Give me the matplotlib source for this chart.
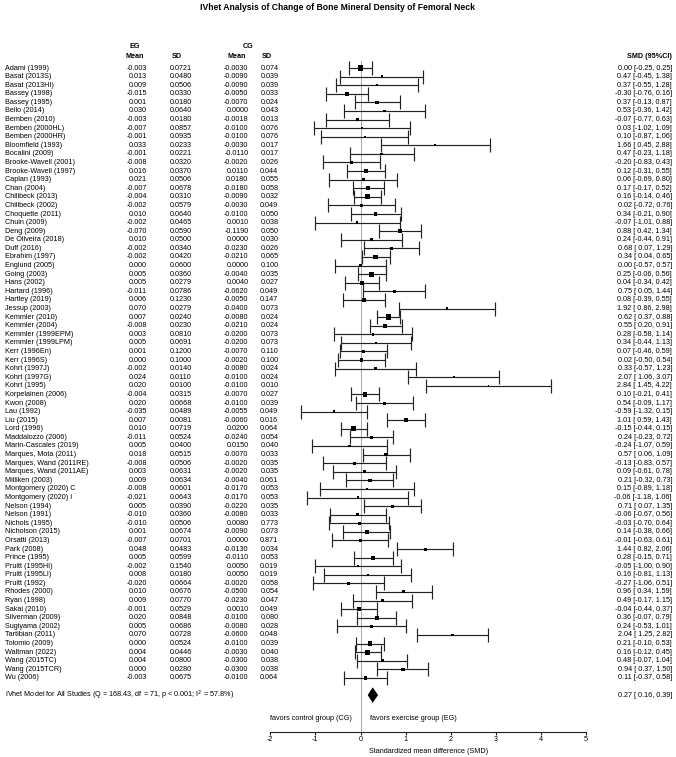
import numpy as np
import matplotlib
matplotlib.use("Agg")
import matplotlib.pyplot as plt
import matplotlib.transforms as mtransforms

plt.rcParams['font.family'] = ['Liberation Sans', 'DejaVu Sans']
plt.rcParams['axes.unicode_minus'] = False

studies = ["Adami (1999)", "Basat (2013S)", "Basat (2013HI)", "Bassey (1998)", "Bassey (1995)",
    "Bello (2014)", "Bemben (2010)", "Bemben (2000HL)", "Bemben (2000HR)", "Bloomfield (1993)",
    "Bocalini (2009)", "Brooke-Wavell (2001)", "Brooke-Wavell (1997)", "Caplan (1993)", "Chan (2004)",
    "Chilibeck (2013)", "Chilibeck (2002)", "Choquette (2011)", "Chuin (2009)", "Deng (2009)",
    "De Oliveira (2018)", "Duff (2016)", "Ebrahim (1997)", "Englund (2005)", "Going (2003)",
    "Hans (2002)", "Hartard (1996)", "Hartley (2019)", "Jessup (2003)", "Kemmler (2010)",
    "Kemmler (2004)", "Kemmler (1999EPM)", "Kemmler (1999LPM)", "Kerr (1996En)", "Kerr (1996S)",
    "Kohrt (1997J)", "Kohrt (1997G)", "Kohrt (1995)", "Korpelainen (2006)", "Kwon (2008)",
    "Lau (1992)", "Liu (2015)", "Lord (1996)", "Maddalozzo (2006)", "Marin-Cascales (2019)",
    "Marques, Mota (2011)", "Marques, Wand (2011RE)", "Marques, Wand (2011AE)", "Milliken (2003)",
    "Montgomery (2020) C", "Montgomery (2020) I", "Nelson (1994)", "Nelson (1991)", "Nichols (1995)",
    "Nicholson (2015)", "Orsatti (2013)", "Park (2008)", "Prince (1995)", "Pruitt (1995HI)",
    "Pruitt (1995LI)", "Pruitt (1992)", "Rhodes (2000)", "Ryan (1998)", "Sakai (2010)",
    "Silverman (2009)", "Sugiyama (2002)", "Tartibian (2011)", "Tolomio (2009)", "Waltman (2022)",
    "Wang (2015TC)", "Wang (2015TCR)", "Wu (2006)"]

eg_mean = ["-0.003", "0.013", "0.009", "-0.015", "0.001", "0.030", "-0.003", "-0.007", "-0.001", "0.033",
    "-0.001", "-0.008", "0.016", "0.021", "-0.007", "-0.004", "-0.002", "0.010", "-0.002", "-0.070",
    "0.010", "-0.002", "-0.002", "0.000", "0.005", "0.005", "-0.011", "0.006", "0.070", "0.007",
    "-0.008", "0.003", "0.005", "0.001", "0.000", "-0.002", "0.024", "0.020", "-0.004", "0.020",
    "-0.035", "0.007", "0.010", "-0.011", "0.005", "0.018", "-0.008", "0.003", "0.009", "-0.008",
    "-0.021", "0.005", "-0.010", "-0.010", "0.001", "-0.007", "0.048", "0.005", "-0.002", "0.008",
    "-0.020", "0.010", "0.009", "-0.001", "0.020", "0.005", "0.070", "0.000", "0.004", "0.004",
    "0.000", "-0.003"]

eg_sd = ["0.0721", "0.0480", "0.0506", "0.0330", "0.0180", "0.0640", "0.0180", "0.0857", "0.0935", "0.0233",
    "0.0221", "0.0320", "0.0370", "0.0506", "0.0678", "0.0310", "0.0579", "0.0640", "0.0465", "0.0590",
    "0.0500", "0.0340", "0.0420", "0.0600", "0.0360", "0.0279", "0.0786", "0.1230", "0.0279", "0.0240",
    "0.0230", "0.0810", "0.0691", "0.1200", "0.1000", "0.0140", "0.0110", "0.0100", "0.0315", "0.0668",
    "0.0489", "0.0081", "0.0719", "0.0524", "0.0400", "0.0515", "0.0506", "0.0631", "0.0634", "0.0601",
    "0.0643", "0.0390", "0.0360", "0.0506", "0.0674", "0.0701", "0.0483", "0.0599", "0.1540", "0.0180",
    "0.0664", "0.0676", "0.0770", "0.0529", "0.0848", "0.0686", "0.0728", "0.0524", "0.0446", "0.0800",
    "0.0280", "0.0675"]

cg_mean = ["-0.0030", "-0.0090", "-0.0090", "-0.0050", "-0.0070", "0.0000", "-0.0018", "-0.0100", "-0.0100", "-0.0030",
    "-0.0110", "-0.0020", "0.0110", "0.0180", "-0.0180", "-0.0090", "-0.0030", "-0.0100", "0.0010", "-0.1190",
    "0.0000", "-0.0230", "-0.0210", "0.0000", "-0.0040", "0.0040", "-0.0620", "-0.0050", "-0.0400", "-0.0080",
    "-0.0210", "-0.0200", "-0.0200", "-0.0070", "-0.0020", "-0.0080", "-0.0100", "-0.0100", "-0.0070", "-0.0100",
    "-0.0055", "-0.0060", "0.0200", "-0.0240", "0.0150", "-0.0070", "-0.0020", "-0.0020", "-0.0040", "-0.0170",
    "-0.0170", "-0.0220", "-0.0080", "0.0080", "-0.0090", "0.0000", "-0.0130", "-0.0110", "0.0050", "0.0050",
    "-0.0020", "-0.0500", "-0.0230", "0.0010", "-0.0100", "-0.0080", "-0.0600", "-0.0100", "-0.0030", "-0.0300",
    "-0.0300", "-0.0100"]

cg_sd = ["0.074", "0.039", "0.039", "0.033", "0.024", "0.043", "0.013", "0.076", "0.076", "0.017",
    "0.017", "0.026", "0.044", "0.055", "0.058", "0.032", "0.049", "0.050", "0.038", "0.050",
    "0.030", "0.026", "0.065", "0.100", "0.035", "0.027", "0.049", "0.147", "0.073", "0.024",
    "0.024", "0.073", "0.073", "0.110", "0.100", "0.024", "0.024", "0.010", "0.027", "0.039",
    "0.049", "0.016", "0.064", "0.054", "0.040", "0.033", "0.035", "0.035", "0.061", "0.053",
    "0.053", "0.035", "0.033", "0.773", "0.073", "0.871", "0.034", "0.053", "0.019", "0.019",
    "0.058", "0.054", "0.047", "0.049", "0.080", "0.028", "0.048", "0.039", "0.040", "0.038",
    "0.038", "0.064"]

smd = [0.00, 0.47, 0.37, -0.30, 0.37, 0.53, -0.07, 0.03, 0.10, 1.66,
    0.47, -0.20, 0.12, 0.06, 0.17, 0.16, 0.02, 0.34, -0.07, 0.88,
    0.24, 0.68, 0.34, 0.00, 0.25, 0.04, 0.75, 0.08, 1.92, 0.62,
    0.55, 0.28, 0.34, 0.07, 0.02, 0.33, 2.07, 2.84, 0.10, 0.54,
    -0.59, 1.01, -0.15, 0.24, -0.24, 0.57, -0.13, 0.09, 0.21, 0.15,
    -0.06, 0.71, -0.06, -0.03, 0.14, -0.01, 1.44, 0.28, -0.05, 0.16,
    -0.27, 0.96, 0.49, -0.04, 0.36, 0.24, 2.04, 0.21, 0.16, 0.48,
    0.94, 0.11]

ci_low = [-0.25, -0.45, -0.55, -0.76, -0.13, -0.36, -0.77, -1.02, -0.87, 0.45,
    -0.23, -0.83, -0.31, -0.69, -0.17, -0.14, -0.72, -0.21, -1.01, 0.42,
    -0.44, 0.07, 0.04, -0.57, -0.06, -0.34, 0.05, -0.39, 0.86, 0.37,
    0.20, -0.58, -0.44, -0.46, -0.50, -0.57, 1.06, 1.45, -0.21, -0.09,
    -1.32, 0.59, -0.44, -0.23, -1.07, 0.06, -0.83, -0.61, -0.32, -0.89,
    -1.18, 0.07, -0.67, -0.70, -0.38, -0.63, 0.82, -0.15, -1.00, -0.81,
    -1.06, 0.34, -0.17, -0.44, -0.07, -0.53, 1.25, -0.10, -0.12, -0.07,
    0.37, -0.37]

ci_high = [0.25, 1.38, 1.28, 0.16, 0.87, 1.42, 0.63, 1.09, 1.06, 2.88,
    1.18, 0.43, 0.55, 0.80, 0.52, 0.46, 0.76, 0.90, 0.88, 1.34,
    0.91, 1.29, 0.65, 0.57, 0.56, 0.42, 1.44, 0.55, 2.98, 0.88,
    0.91, 1.14, 1.13, 0.59, 0.54, 1.23, 3.07, 4.22, 0.41, 1.17,
    0.15, 1.43, 0.15, 0.72, 0.59, 1.09, 0.57, 0.78, 0.73, 1.18,
    1.06, 1.35, 0.56, 0.64, 0.66, 0.61, 2.06, 0.71, 0.90, 1.13,
    0.51, 1.59, 1.15, 0.37, 0.79, 1.01, 2.82, 0.53, 0.45, 1.04,
    1.50, 0.58]

pooled_smd = 0.27
pooled_low = 0.16
pooled_high = 0.39
pooled_label = "IVhet Model for All Studies (Q = 168.43, df = 71, p < 0.001; I$^2$ = 57.8%)"
title = "IVhet Analysis of Change of Bone Mineral Density of Femoral Neck"
x_ticks = [-2, -1, 0, 1, 2, 3, 4, 5]
x_label = "Standardized mean difference (SMD)"

# ---------------- layout ----------------
W, H = 676, 757
fig = plt.figure(figsize=(W / 100, H / 100), dpi=100)

row0_px = 68.0
row_step = 8.59
ax_top_px = 60.0
ax_bot_px = 732.0
x0_px, x1_px = 270.3, 586.0

ax = fig.add_axes([x0_px / W, 1 - ax_bot_px / H, (x1_px - x0_px) / W, (ax_bot_px - ax_top_px) / H])
y_top = 1 + (ax_top_px - row0_px) / row_step
y_bot = 1 + (ax_bot_px - row0_px) / row_step
ax.set_ylim(y_bot, y_top)
ax.set_xlim(-2, 5)
for s in ['top', 'right', 'left']:
    ax.spines[s].set_visible(False)
ax.spines['bottom'].set_linewidth(0.8)
ax.spines['bottom'].set_color('#222222')
ax.set_yticks([])
ax.set_xticks(x_ticks)
ax.tick_params(axis='x', labelsize=5.2, length=2.2, width=0.8, pad=1, color='#222222')
ax.set_xlabel(x_label, fontsize=5.2, labelpad=3.5)
ax.patch.set_alpha(0)

n = len(studies)
rows = np.arange(1, n + 1)
est = np.array(smd)
lo = np.array(ci_low)
hi = np.array(ci_high)

ax.axvline(0, color='#333333', lw=0.6, ls=(0, (1.2, 1.2)), zorder=1)

ax.errorbar(est, rows, xerr=[est - lo, hi - est], fmt='none', ecolor='#222222',
            elinewidth=0.85, capsize=4.8, capthick=0.85, zorder=2)
width = hi - lo
side_px = np.clip(5.4 * (0.51 / width) ** 0.65, 1.8, 8.0)
ax.scatter(est, rows, s=(side_px * 0.72) ** 2, marker='s', color='black', zorder=3, linewidths=0)

# summary diamond
y_sum = n + 2
h = 0.9
ax.fill([pooled_low, pooled_smd, pooled_high, pooled_smd],
        [y_sum, y_sum - h, y_sum, y_sum + h], color='black', zorder=3, lw=0)

tr = mtransforms.blended_transform_factory(fig.transFigure, ax.transData)
fs = 5.2

def col_text(xpx, y, s, ha, weight='normal', size=fs):
    ax.text(xpx / W, y, s, transform=tr, ha=ha, va='center', fontsize=size,
            fontweight=weight, clip_on=False)

for i in range(n):
    y = rows[i]
    col_text(5, y, studies[i], 'left')
    col_text(147, y, eg_mean[i], 'right')
    col_text(192, y, eg_sd[i], 'right')
    col_text(248.5, y, cg_mean[i], 'right')
    col_text(278.5, y, cg_sd[i], 'right')
    col_text(672, y, f"{est[i]:.2f} [{lo[i]:5.2f}, {hi[i]:.2f}]", 'right')

col_text(5, y_sum, pooled_label, 'left')
col_text(672, y_sum, f"{pooled_smd:.2f} [{pooled_low:5.2f}, {pooled_high:.2f}]", 'right')

# headers
hdr1 = 1 + (46 - row0_px) / row_step
hdr2 = 1 + (56 - row0_px) / row_step
col_text(135, hdr1, "EG", 'center', 'bold')
col_text(248, hdr1, "CG", 'center', 'bold')
col_text(135, hdr2, "Mean", 'center', 'bold')
col_text(177, hdr2, "SD", 'center', 'bold')
col_text(237, hdr2, "Mean", 'center', 'bold')
col_text(267, hdr2, "SD", 'center', 'bold')
col_text(672, hdr2, "SMD (95%CI)", 'right', 'bold')

# favors labels
y_fav = n + 4.7
ax.text(-0.2, y_fav, "favors control group (CG)", ha='right', va='center', fontsize=fs)
ax.text(0.2, y_fav, "favors exercise group (EG)", ha='left', va='center', fontsize=fs)

fig.text(0.5, 1 - 8 / H, title, ha='center', va='center', fontsize=6.2, fontweight='bold')

fig.savefig("out.png", dpi=100)
